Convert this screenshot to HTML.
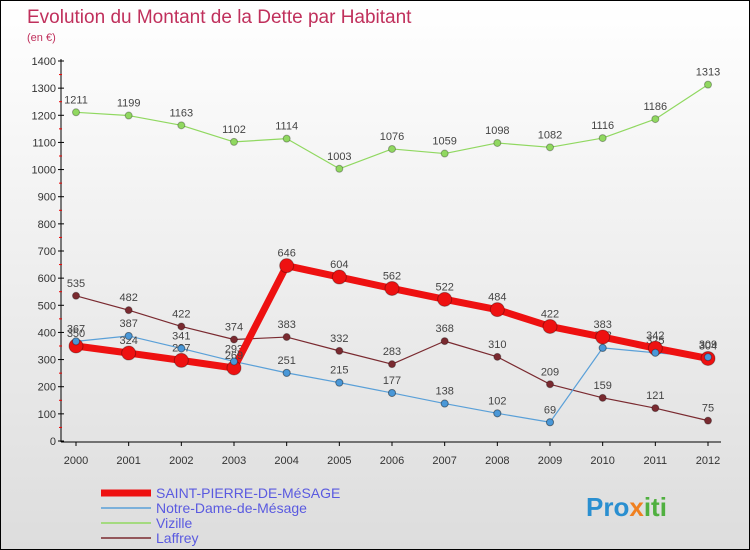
<!DOCTYPE html>
<html><head><meta charset="utf-8"><style>
body{margin:0}
#c{width:750px;height:550px;position:relative;box-sizing:border-box;border:1px solid #000;background:linear-gradient(#fff,#ddd);font-family:"Liberation Sans",sans-serif;overflow:hidden}
</style></head><body>
<div id="c">
<svg id="s" width="750" height="550" style="position:absolute;left:0;top:0" font-family="Liberation Sans, sans-serif">
<text x="26" y="22" font-size="19" fill="#c0305c">Evolution du Montant de la Dette par Habitant</text>
<text x="26" y="40" font-size="11" fill="#c0305c">(en €)</text>
<text x="585" y="515" font-size="26" font-weight="bold" fill="#2a8fd0">Pro<tspan fill="#f08020">x</tspan><tspan fill="#50b040">iti</tspan></text>
</svg>
</div>
<script>
const years=[2000,2001,2002,2003,2004,2005,2006,2007,2008,2009,2010,2011,2012];
const yTicks=[0,100,200,300,400,500,600,700,800,900,1000,1100,1200,1300,1400];
const vizille=[1211,1199,1163,1102,1114,1003,1076,1059,1098,1082,1116,1186,1313];
const laffrey=[535,482,422,374,383,332,283,368,310,209,159,121,75];
const saintPierre=[350,324,297,269,646,604,562,522,484,422,383,342,304];
const notreDame=[367,387,341,293,251,215,177,138,102,69,343,325,309];
const seriesNames=["SAINT-PIERRE-DE-MéSAGE","Notre-Dame-de-Mésage","Vizille","Laffrey"];
const s=document.getElementById('s');const NS='http://www.w3.org/2000/svg';
function X(i){return 75+i*(707-75)/(years.length-1);}
function Y(v){return 440-v*380/1400;}
function el(t,a,txt){const e=document.createElementNS(NS,t);for(const k in a)e.setAttribute(k,a[k]);if(txt!==undefined)e.textContent=txt;s.appendChild(e);return e;}
let ax=el('line',{x1:60,y1:58,x2:60,y2:441,stroke:'#000'});

let bx=el('line',{x1:60,y1:441,x2:720,y2:441,stroke:'#000'});

yTicks.forEach(v=>{el('line',{x1:57,y1:Y(v),x2:63,y2:Y(v),stroke:'#000'});
let t=el('text',{x:55,y:Y(v)+4,'font-size':11,fill:'#333','text-anchor':'end'},v);

if(v<1400)el('line',{x1:58,y1:Y(v+50),x2:61,y2:Y(v+50),stroke:'#e00'});});
years.forEach((y,i)=>{el('line',{x1:X(i),y1:441,x2:X(i),y2:445,stroke:'#000'});
let t=el('text',{x:X(i),y:463,'font-size':11,fill:'#333','text-anchor':'middle'},y);
});
function series(d,color,w,r,name){
let p=el('polyline',{points:d.map((v,i)=>X(i)+','+Y(v)).join(' '),fill:'none',stroke:color,'stroke-width':w,'stroke-linejoin':'round'});

d.forEach((v,i)=>{let c=el('circle',{cx:X(i),cy:Y(v),r:r,fill:color,stroke:'rgba(0,0,0,0.3)'});

let t=el('text',{x:X(i),y:Y(v)-9,'font-size':11,fill:'#444','text-anchor':'middle'},v);
});}
series(vizille,'#90d860',1.2,3.5,'vizille');
series(laffrey,'#7a2a30',1.2,3.5,'laffrey');
series(notreDame,'#5aa0d8',1.2,3.5,'notre-dame');
series(saintPierre,'#ee1111',7,7,'saint-pierre');
// redraw notre-dame points on top
notreDame.forEach((v,i)=>{let c=el('circle',{cx:X(i),cy:Y(v),r:3.5,fill:'#4a98d8',stroke:'rgba(0,0,0,0.3)'});
});
const lc=['#ee1111','#5aa0d8','#90d860','#7a2a30'],lw=[7,1.5,1.5,1.5];
seriesNames.forEach((n,i)=>{let y=492+i*15;
let l=el('line',{x1:100,y1:y,x2:150,y2:y,stroke:lc[i],'stroke-width':lw[i]});

let t=el('text',{x:155,y:y+5,'font-size':14,fill:'#5a5ae0'},n);
});
</script>
</body></html>
